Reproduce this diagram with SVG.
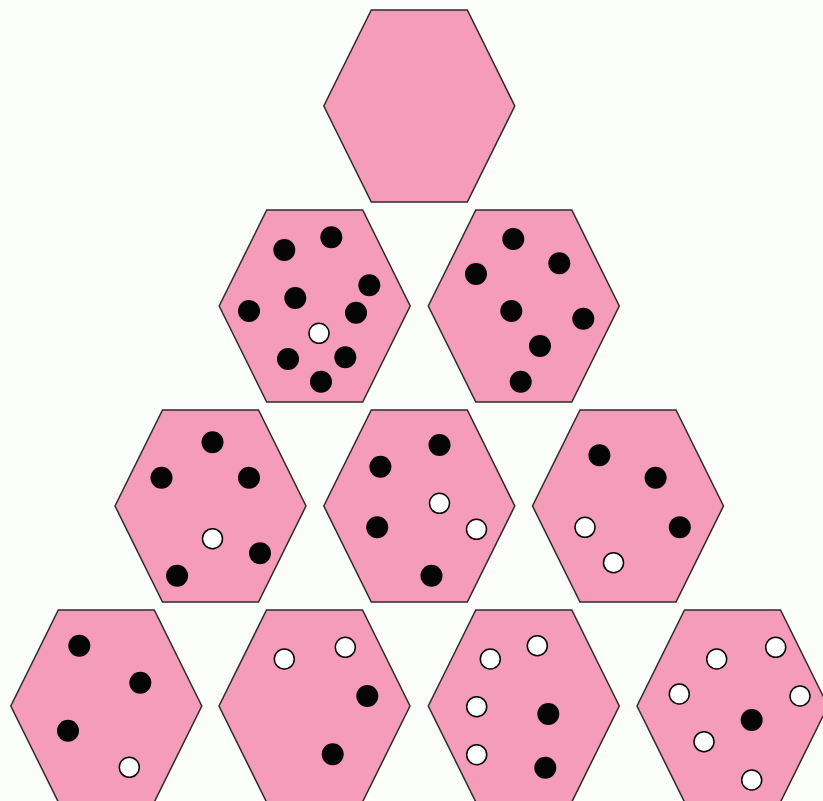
<svg xmlns="http://www.w3.org/2000/svg" width="823" height="801" viewBox="0 0 823 801">
<style>
.hex{fill:#F49CB9;stroke:#2b2b2b;stroke-width:1.5;stroke-linejoin:miter}
.b{fill:#050505}
.w{fill:#ffffff;stroke:#050505;stroke-width:1.5}
</style>
<defs>
<polygon id="hx" class="hex" points="-48,-96 48,-96 95.5,0 48,96 -48,96 -95.5,0"/>
</defs>
<rect width="823" height="801" fill="#FCFEFC"/>
<g id="hex-r1"><use href="#hx" x="419.3" y="106"/></g>
<g id="hex-r2a"><use href="#hx" x="314.7" y="306"/>
<circle class="b" cx="284.3" cy="250" r="11"/><circle class="b" cx="331.3" cy="237.3" r="11"/><circle class="b" cx="369.3" cy="285.3" r="11"/><circle class="b" cx="295.3" cy="298" r="11"/><circle class="b" cx="249" cy="311" r="11"/><circle class="b" cx="356" cy="312.7" r="11"/><circle class="w" cx="319" cy="333.3" r="10"/><circle class="b" cx="288" cy="359" r="11"/><circle class="b" cx="345.3" cy="357.3" r="11"/><circle class="b" cx="321" cy="381.7" r="11"/>
</g>
<g id="hex-r2b"><use href="#hx" x="523.8" y="306"/>
<circle class="b" cx="513.3" cy="239" r="11"/><circle class="b" cx="559.3" cy="263.3" r="11"/><circle class="b" cx="476" cy="274" r="11"/><circle class="b" cx="511.3" cy="311" r="11"/><circle class="b" cx="583.3" cy="318.7" r="11"/><circle class="b" cx="540" cy="346" r="11"/><circle class="b" cx="520.7" cy="381.7" r="11"/>
</g>
<g id="hex-r3a"><use href="#hx" x="210.5" y="506"/>
<circle class="b" cx="212.5" cy="442.3" r="11"/><circle class="b" cx="161.5" cy="477.7" r="11"/><circle class="b" cx="249" cy="477.7" r="11"/><circle class="w" cx="212.5" cy="538.7" r="10"/><circle class="b" cx="260" cy="553.3" r="11"/><circle class="b" cx="177.1" cy="575.7" r="11"/>
</g>
<g id="hex-r3b"><use href="#hx" x="419.3" y="506"/>
<circle class="b" cx="439.5" cy="445" r="11"/><circle class="b" cx="380.4" cy="466.7" r="11"/><circle class="w" cx="439.5" cy="503.3" r="10"/><circle class="b" cx="377.2" cy="527.3" r="11"/><circle class="w" cx="476.5" cy="529.3" r="10"/><circle class="b" cx="431.5" cy="575.7" r="11"/>
</g>
<g id="hex-r3c"><use href="#hx" x="628" y="506"/>
<circle class="b" cx="599.4" cy="455.3" r="11"/><circle class="b" cx="655.6" cy="477.7" r="11"/><circle class="w" cx="585" cy="527.3" r="10"/><circle class="b" cx="679.8" cy="527.3" r="11"/><circle class="w" cx="613.5" cy="562.7" r="10"/>
</g>
<g id="hex-r4a"><use href="#hx" x="106.3" y="706"/>
<circle class="b" cx="79.3" cy="645.7" r="11"/><circle class="b" cx="140.3" cy="682.7" r="11"/><circle class="b" cx="68" cy="730.7" r="11"/><circle class="w" cx="129.3" cy="767.3" r="10"/>
</g>
<g id="hex-r4b"><use href="#hx" x="314.5" y="706"/>
<circle class="w" cx="284.3" cy="659" r="10"/><circle class="w" cx="345.3" cy="647.3" r="10"/><circle class="b" cx="367.3" cy="696" r="11"/><circle class="b" cx="332.7" cy="754.3" r="11"/>
</g>
<g id="hex-r4c"><use href="#hx" x="523.8" y="706"/>
<circle class="w" cx="490.3" cy="659" r="10"/><circle class="w" cx="537.3" cy="645.7" r="10"/><circle class="w" cx="476.7" cy="706.7" r="10"/><circle class="b" cx="548.3" cy="714" r="11"/><circle class="w" cx="476.7" cy="754.7" r="10"/><circle class="b" cx="545.3" cy="767.7" r="11"/>
</g>
<g id="hex-r4d"><use href="#hx" x="732.5" y="706"/>
<circle class="w" cx="716.7" cy="659" r="10"/><circle class="w" cx="775.7" cy="647.3" r="10"/><circle class="w" cx="679.3" cy="694" r="10"/><circle class="w" cx="800" cy="696" r="10"/><circle class="b" cx="751.7" cy="720" r="11"/><circle class="w" cx="704" cy="741.7" r="10"/><circle class="w" cx="751.7" cy="780" r="10"/>
</g>
<g id="connectors"></g>
</svg>
